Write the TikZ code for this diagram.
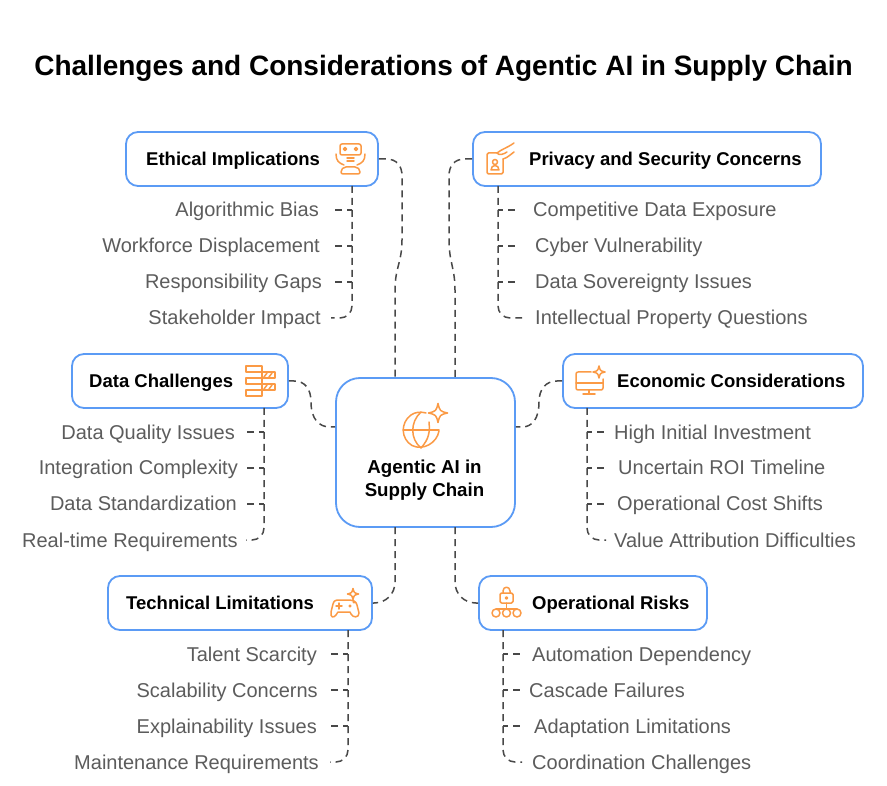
\documentclass[tikz,border=0pt]{standalone}
\usepackage{fontspec}
\setmainfont{Liberation Sans}
\usetikzlibrary{positioning}
\definecolor{boxblue}{HTML}{5B9BF5}
\definecolor{iconorange}{HTML}{FB9A45}
\definecolor{linkgrey}{HTML}{484848}
\definecolor{leafgrey}{HTML}{5C5C5C}
\tikzset{
    box/.style={
        draw=boxblue,
        line width=1.8pt,
        fill=white,
        rounded corners=12pt,
        minimum height=54pt
    },
    hub/.style={
        box,
        rounded corners=24pt,
        minimum width=179pt,
        minimum height=149pt
    },
    head/.style={
        anchor=west,
        inner sep=0pt,
        text height=17.5pt,
        text depth=4pt,
        font=\fontsize{18.5}{22}\selectfont\bfseries
    },
    leafL/.style={
        anchor=east,
        inner ysep=0pt,
        inner xsep=#1,
        text height=18pt,
        text depth=4pt,
        text=leafgrey,
        font=\fontsize{20}{22}\selectfont
    },
    leafR/.style={
        anchor=west,
        inner ysep=0pt,
        inner xsep=#1,
        text height=18pt,
        text depth=4pt,
        text=leafgrey,
        font=\fontsize{20}{22}\selectfont
    },
    link/.style={
        draw=linkgrey,
        line width=1.5pt,
        dash pattern=on 7pt off 5pt
    },
    branch/.style={
        link,
        dash phase=2pt
    },
    icon/.style={
        draw=iconorange,
        line width=1.5pt,
        line join=round,
        line cap=round
    },
    sparkle/.pic={
        \draw[icon] (0,-#1) .. controls (0.2*#1,-0.2*#1) .. (#1,0)
            .. controls (0.2*#1,0.2*#1) .. (0,#1)
            .. controls (-0.2*#1,0.2*#1) .. (-#1,0)
            .. controls (-0.2*#1,-0.2*#1) .. cycle;
    }
}
\begin{document}
\begin{tikzpicture}[x=1pt,y=-1pt]
  \useasboundingbox[fill=white] (0,0) rectangle (887,786);

  \node[text height=24pt, text depth=4pt, font=\fontsize{28}{34}\selectfont\bfseries] (title) at (443.5,66) {Challenges and Considerations of Agentic AI in Supply Chain};

  \node[hub] (center) at (425.5,452.5) {};
  \coordinate (centerNL) at (395,378);
  \coordinate (centerNR) at (455,378);
  \coordinate (centerSL) at (395,527);
  \coordinate (centerSR) at (455,527);
  \node[font=\fontsize{18.7}{23}\selectfont\bfseries, align=center] (centerT) at (424.5,480.5) {Agentic AI in\\Supply Chain};

  \node[box, minimum width=252pt] (ethical) at (252,159) {};
  \node[head] (ethicalT) at (146,159) {Ethical Implications};
  \node[box, minimum width=348pt] (privacy) at (647,159) {};
  \node[head] (privacyT) at (529,159) {Privacy and Security Concerns};
  \node[box, minimum width=216pt] (data) at (180,381) {};
  \node[head] (dataT) at (89,381) {Data Challenges};
  \node[box, minimum width=300pt] (economic) at (713,381) {};
  \node[head] (economicT) at (617,381) {Economic Considerations};
  \node[box, minimum width=264pt] (technical) at (240,603) {};
  \node[head] (technicalT) at (126,603) {Technical Limitations};
  \node[box, minimum width=228pt] (operational) at (593,603) {};
  \node[head] (operationalT) at (532,603) {Operational Risks};

  % from the boxes to the center
  \draw[link] (ethical.east) -- (386,159) .. controls (397,159) and (402,166) .. (402,176)
      -- (402,240) .. controls (402,262) and (395,268) .. (395,290) -- (centerNL);
  \draw[link] (privacy.west) -- (465,159) .. controls (454,159) and (449,166) .. (449,176)
      -- (449,240) .. controls (449,262) and (455,268) .. (455,290) -- (centerNR);
  \draw[link] (data.east) -- (294,381) .. controls (305,381) and (311,389) .. (311,402)
      .. controls (311,419) and (319,427) .. (330,427) -- (center.west |- 0,427);
  \draw[link] (economic.west) -- (557,381) .. controls (546,381) and (539,389) .. (539,402)
      .. controls (539,419) and (532,427) .. (522,427) -- (center.east |- 0,427);
  \draw[link] (centerSL) -- (395,582) .. controls (395,594) and (386,603) .. (374,603) -- (technical.east);
  \draw[link] (centerSR) -- (455,582) .. controls (455,594) and (464,603) .. (476,603) -- (operational.west);

  % ethical
  \coordinate (ethicalS) at (352,186);
  \node[leafL=16pt] (bias) at (335,210) {Algorithmic Bias};
  \node[leafL=15pt] (workforce) at (335,246) {Workforce Displacement};
  \node[leafL=13pt] (gaps) at (335,282) {Responsibility Gaps};
  \node[leafL=10pt] (stakeholder) at (331,318) {Stakeholder Impact};
  \draw[branch] (ethicalS |- bias.east) -- (bias.east);
  \draw[branch] (ethicalS |- workforce.east) -- (workforce.east);
  \draw[branch] (ethicalS |- gaps.east) -- (gaps.east);
  \draw[link, rounded corners=12pt] (ethicalS) |- (stakeholder.east);

  % privacy
  \coordinate (privacyS) at (498,186);
  \node[leafR=16pt] (exposure) at (517,210) {Competitive Data Exposure};
  \node[leafR=18pt] (cyber) at (517,246) {Cyber Vulnerability};
  \node[leafR=18pt] (sovereignty) at (517,282) {Data Sovereignty Issues};
  \node[leafR=13pt] (property) at (522,318) {Intellectual Property Questions};
  \draw[branch] (privacyS |- exposure.west) -- (exposure.west);
  \draw[branch] (privacyS |- cyber.west) -- (cyber.west);
  \draw[branch] (privacyS |- sovereignty.west) -- (sovereignty.west);
  \draw[link, rounded corners=12pt] (privacyS) |- (property.west);

  % data
  \coordinate (dataS) at (264,408);
  \node[leafL=11pt] (quality) at (246,432) {Data Quality Issues};
  \node[leafL=8pt] (integration) at (246,468) {Integration Complexity};
  \node[leafL=9pt] (standard) at (246,504) {Data Standardization};
  \node[leafL=8pt] (realtime) at (246,540) {Real-time Requirements};
  \draw[branch] (dataS |- quality.east) -- (quality.east);
  \draw[branch] (dataS |- integration.east) -- (integration.east);
  \draw[branch] (dataS |- standard.east) -- (standard.east);
  \draw[link, rounded corners=12pt] (dataS) |- (realtime.east);

  % economic
  \coordinate (economicS) at (587,408);
  \node[leafR=8pt] (investment) at (606,432) {High Initial Investment};
  \node[leafR=12pt] (roi) at (606,468) {Uncertain ROI Timeline};
  \node[leafR=11pt] (shifts) at (606,504) {Operational Cost Shifts};
  \node[leafR=8pt] (value) at (606,540) {Value Attribution Difficulties};
  \draw[branch] (economicS |- investment.west) -- (investment.west);
  \draw[branch] (economicS |- roi.west) -- (roi.west);
  \draw[branch] (economicS |- shifts.west) -- (shifts.west);
  \draw[link, rounded corners=12pt] (economicS) |- (value.west);

  % technical
  \coordinate (technicalS) at (348,630);
  \node[leafL=13pt] (talent) at (330,654) {Talent Scarcity};
  \node[leafL=12pt] (scalability) at (330,690) {Scalability Concerns};
  \node[leafL=13pt] (explain) at (330,726) {Explainability Issues};
  \node[leafL=11pt] (maintenance) at (330,762) {Maintenance Requirements};
  \draw[branch] (technicalS |- talent.east) -- (talent.east);
  \draw[branch] (technicalS |- scalability.east) -- (scalability.east);
  \draw[branch] (technicalS |- explain.east) -- (explain.east);
  \draw[link, rounded corners=12pt] (technicalS) |- (maintenance.east);

  % operational
  \coordinate (operationalS) at (503,630);
  \node[leafR=10pt] (automation) at (522,654) {Automation Dependency};
  \node[leafR=7pt] (cascade) at (522,690) {Cascade Failures};
  \node[leafR=12pt] (adaptation) at (522,726) {Adaptation Limitations};
  \node[leafR=10pt] (coordination) at (522,762) {Coordination Challenges};
  \draw[branch] (operationalS |- automation.west) -- (automation.west);
  \draw[branch] (operationalS |- cascade.west) -- (cascade.west);
  \draw[branch] (operationalS |- adaptation.west) -- (adaptation.west);
  \draw[link, rounded corners=12pt] (operationalS) |- (coordination.west);

  % icons
  \begin{scope}[shift={(350,159)}]
    \draw[icon, rounded corners=2pt] (-10,-15) rectangle (11,-4);
    \draw[icon] (-5,-10) circle (1.5) (6,-10) circle (1.5);
    \draw[icon] (-3,-1) -- (4,-1) (-3,2) -- (4,2);
    \draw[icon] (-14,-5) .. controls (-14,2) and (-11,4) .. (-6,6);
    \draw[icon] (15,-5) .. controls (15,2) and (12,4) .. (7,6);
    \draw[icon, rounded corners=2pt] (-9,15) -- (-9,11) -- (-6,8) -- (7,8) -- (10,11) -- (10,15) -- cycle;
  \end{scope}

  \begin{scope}[shift={(495,163)}]
    \draw[icon, rounded corners=1.5pt] (2,-10) -- (-8,-10) -- (-8,11) -- (8,11) -- (8,-4);
    \draw[icon] (0,-1) circle (2.5);
    \draw[icon] (-4,7) .. controls (-4,1) and (4,1) .. (4,7) -- cycle;
    \draw[icon] (2,-10) .. controls (7,-14) and (12,-15) .. (19,-20);
    \draw[icon] (8,-4) .. controls (12,-5) and (15,-8) .. (19,-11);
    \draw[icon] (2,-10) .. controls (4,-7) and (9,-9) .. (12,-11);
  \end{scope}

  \begin{scope}[shift={(260,381)}]
    \draw[icon] (-14,-15) rectangle (2,-9);
    \draw[icon] (-14,-3) rectangle (2,3);
    \draw[icon] (-14,9) rectangle (2,15);
    \draw[icon] (2,-9) rectangle (15,-3);
    \draw[icon] (2,3) rectangle (15,9);
    \draw[icon] (4,-4) -- (7,-8) (9,-4) -- (12,-8) (4,8) -- (7,4) (9,8) -- (12,4);
  \end{scope}

  \begin{scope}[shift={(589,381)}]
    \draw[icon, rounded corners=2pt] (2,-9) -- (-13,-9) -- (-13,9) -- (14,9) -- (14,-2);
    \draw[icon] (-13,2) -- (14,2);
    \draw[icon] (0,9) -- (0,13) (-6,13) -- (6,13);
    \pic at (10,-9) {sparkle=6};
  \end{scope}

  \begin{scope}[shift={(345,607)}]
    \draw[icon] (-8,-7) -- (2,-7) .. controls (8,-7) and (11,-6) .. (12,-2)
      -- (14,6) .. controls (14,11) and (8,11) .. (6,7) -- (5,5) -- (-7,5) -- (-9,8)
      .. controls (-11,11) and (-15,11) .. (-14,5) -- (-12,-3) .. controls (-12,-5) and (-10,-7) .. (-8,-7);
    \draw[icon] (-9,-1) -- (-3,-1) (-6,-4) -- (-6,2);
    \draw[icon] (5,-1) circle (0.8) (9,-5) circle (0.8);
    \pic at (8,-13) {sparkle=5.5};
  \end{scope}

  \begin{scope}[shift={(506,603)}]
    \draw[icon, rounded corners=1.5pt] (-6,-10) rectangle (7,0);
    \draw[icon] (-3,-10) -- (-3,-12) .. controls (-3,-17) and (4,-17) .. (4,-12) -- (4,-10);
    \draw[icon] (0.5,-5) circle (1);
    \draw[icon] (0.5,0) -- (0.5,6);
    \draw[icon] (-10,6) -- (11,6);
    \draw[icon] (-10,10) circle (4) (0.5,10) circle (4) (11,10) circle (4);
  \end{scope}

  \begin{scope}[shift={(421,430)}]
    \draw[icon] (5,-17) .. controls (0,-18.5) and (-6,-18) .. (-10,-15) .. controls (-21,-7) and (-20,9) .. (-9,15.5)
      .. controls (2,21) and (16,13) .. (18,1);
    \draw[icon] (-18,0) -- (18,0);
    \draw[icon] (0,-18) .. controls (-11,-8) and (-11,9) .. (0,18) .. controls (8,9) and (9,2) .. (8,-8);
    \pic at (17,-17) {sparkle=9.5};
  \end{scope}
\end{tikzpicture}
\end{document}
